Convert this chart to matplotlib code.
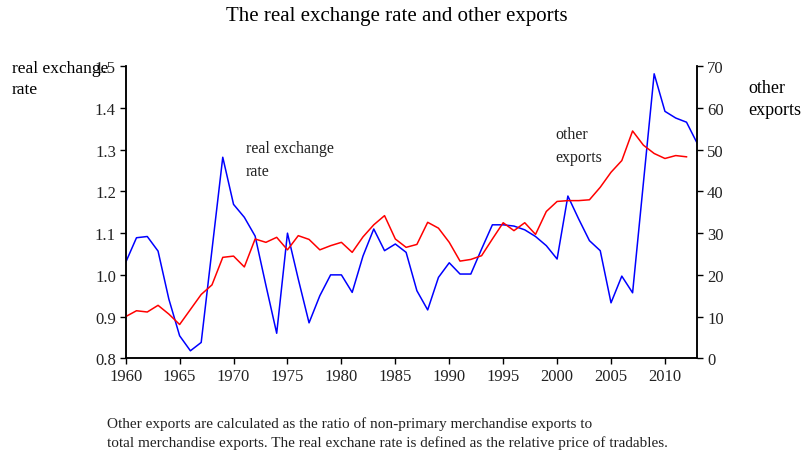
import numpy as np
import matplotlib
matplotlib.use("Agg")
import matplotlib.pyplot as plt

plt.rcParams["font.family"] = ["Liberation Serif", "DejaVu Serif"]

years = np.arange(1960, 2014)

# real exchange rate (left axis), 1960-2013
rer = [1.030, 1.089, 1.092, 1.057, 0.942, 0.854, 0.818, 0.838, 1.060, 1.282,
       1.169, 1.138, 1.093, 0.975, 0.860, 1.100, 0.990, 0.885, 0.950, 1.000,
       1.000, 0.958, 1.045, 1.110, 1.058, 1.074, 1.054, 0.962, 0.916, 0.994,
       1.029, 1.002, 1.002, 1.062, 1.120, 1.120, 1.117, 1.108, 1.092, 1.070,
       1.038, 1.189, 1.134, 1.082, 1.058, 0.933, 0.997, 0.957, 1.220, 1.482,
       1.392, 1.376, 1.366, 1.315]

# other exports, % of merchandise exports (right axis), 1960-2012
other = [10.0, 11.4, 11.1, 12.7, 10.6, 8.1, 11.7, 15.3, 17.6, 24.2,
         24.5, 21.9, 28.6, 27.8, 29.0, 26.0, 29.4, 28.5, 26.0, 27.0,
         27.8, 25.4, 29.1, 32.0, 34.2, 28.6, 26.6, 27.3, 32.6, 31.2,
         27.8, 23.3, 23.7, 24.6, 28.6, 32.5, 30.6, 32.5, 29.7, 35.2,
         37.6, 37.8, 37.8, 38.0, 41.0, 44.6, 47.4, 54.5, 51.1, 49.1,
         47.9, 48.6, 48.3]

left_ticks = [0.8, 0.9, 1.0, 1.1, 1.2, 1.3, 1.4, 1.5]
right_ticks = [0, 10, 20, 30, 40, 50, 60, 70]
x_ticks = [1960, 1965, 1970, 1975, 1980, 1985, 1990, 1995, 2000, 2005, 2010]

fig = plt.figure(figsize=(8.06, 4.52), dpi=100)
ax = fig.add_axes([125.7 / 806, 1 - 359.3 / 452, (697.3 - 125.7) / 806, (359.3 - 67.3) / 452])
ax2 = ax.twinx()

ax.plot(years, rer, color="#0000ff", lw=1.1)
ax2.plot(years[:len(other)], other, color="#ff0000", lw=1.1)

ax.set_xlim(1960, 2013)
ax.set_ylim(0.8, 1.5)
ax2.set_ylim(0, 70)
ax.set_xticks(x_ticks)
ax.set_yticks(left_ticks)
ax.set_yticklabels([f"{v:.1f}" for v in left_ticks])
ax2.set_yticks(right_ticks)

for a in (ax, ax2):
    a.spines["top"].set_visible(False)
    for s in ("left", "right", "bottom"):
        a.spines[s].set_linewidth(1.1)
    a.tick_params(direction="out", length=4, width=1.0, labelsize=12,
                  labelcolor="#222222", pad=3)

# in-plot series labels
ax.text(1971.15, 1.276, "real exchange\nrate", fontsize=11.5, va="center",
        ha="left", linespacing=1.55, color="#222222")
ax.text(1999.8, 1.31, "other\nexports", fontsize=11.5, va="center",
        ha="left", linespacing=1.55, color="#222222")

# axis titles
fig.text(12 / 806, 1 - 61 / 452, "real exchange\nrate", fontsize=12.5,
         va="top", ha="left", linespacing=1.45)
fig.text(748 / 806, 1 - 80 / 452, "other\nexports", fontsize=13,
         va="top", ha="left", linespacing=1.4)

fig.suptitle("The real exchange rate and other exports", x=397 / 806,
             y=1 - 7 / 452, va="top", fontsize=15)

fig.text(107 / 806, 1 - 417 / 452,
         "Other exports are calculated as the ratio of non-primary merchandise exports to\n"
         "total merchandise exports. The real exchane rate is defined as the relative price of tradables.",
         fontsize=11, va="top", ha="left", linespacing=1.5, color="#222222")

fig.savefig("out.png", dpi=100)
